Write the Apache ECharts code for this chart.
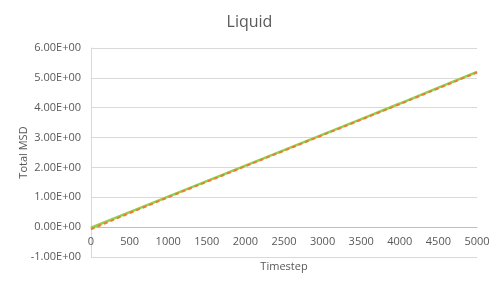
<!DOCTYPE html>
<html><head><meta charset="utf-8">
<script src="https://cdn.jsdelivr.net/npm/echarts@6/dist/echarts.min.js"></script>
<style>html,body{margin:0;padding:0;background:#fff}#c{width:499px;height:293px}</style>
</head><body><div id="c"></div>
<script>
const timesteps = [0, 500, 1000, 1500, 2000, 2500, 3000, 3500, 4000, 4500, 5000];
const msdGreen  = [-0.02, 0.50, 1.02, 1.54, 2.06, 2.58, 3.10, 3.62, 4.14, 4.67, 5.20];
const msdOrange = [-0.07, 0.47, 1.00, 1.52, 2.04, 2.56, 3.08, 3.60, 4.12, 4.65, 5.18];
const title = 'Liquid';
const xName = 'Timestep';
const yName = 'Total MSD';

function fmt(v){
  const s = Number(v).toExponential(2);
  const [m, e] = s.split('e');
  const sign = e[0] === '-' ? '-' : '+';
  const d = e.replace(/^[+-]/, '').padStart(2, '0');
  return m + 'E' + sign + d;
}
const font = 'Open Sans, Liberation Sans, sans-serif';
const chart = echarts.init(document.getElementById('c'));
chart.setOption({
  animation: false,
  backgroundColor: '#fff',
  title: { text: title, left: 'center', top: 9, textStyle: { fontFamily: font, fontSize: 16, fontWeight: 'normal', color: '#595959' } },
  grid: { left: 91, right: 22, top: 48, bottom: 36, containLabel: false, outerBoundsMode: 'none' },
  xAxis: {
    type: 'value', min: 0, max: 5000, interval: 500,
    offset: -30,
    name: xName, nameLocation: 'middle', nameGap: 34,
    nameTextStyle: { fontFamily: font, fontSize: 11, color: '#595959' },
    axisLine: { show: true, onZero: false, lineStyle: { color: '#bfbfbf', width: 1 } },
    axisTick: { show: false },
    axisLabel: { fontFamily: font, fontSize: 11, color: '#595959', margin: 9, formatter: v => String(v) },
    splitLine: { show: false }
  },
  yAxis: {
    type: 'value', min: -1, max: 6, interval: 1,
    name: yName, nameLocation: 'middle', nameGap: 62, nameRotate: 90, nameMoveOverlap: false,
    nameTextStyle: { fontFamily: font, fontSize: 11, color: '#595959' },
    axisLine: { show: true, onZero: false, lineStyle: { color: '#d9d9d9' } },
    axisTick: { show: false },
    axisLabel: { fontFamily: font, fontSize: 11, color: '#595959', margin: 10, formatter: fmt },
    splitLine: { show: true, lineStyle: { color: '#d9d9d9', width: 1 } }
  },
  series: [
    { type: 'line', data: timesteps.map((t, i) => [t, msdGreen[i]]), showSymbol: false,
      lineStyle: { color: '#92D050', width: 2.5 }, itemStyle: { color: '#92D050' } },
    { type: 'line', data: timesteps.map((t, i) => [t, msdOrange[i]]), showSymbol: false,
      lineStyle: { color: '#ED7D31', width: 2, type: [4, 3] }, itemStyle: { color: '#ED7D31' } }
  ]
});
</script></body></html>
